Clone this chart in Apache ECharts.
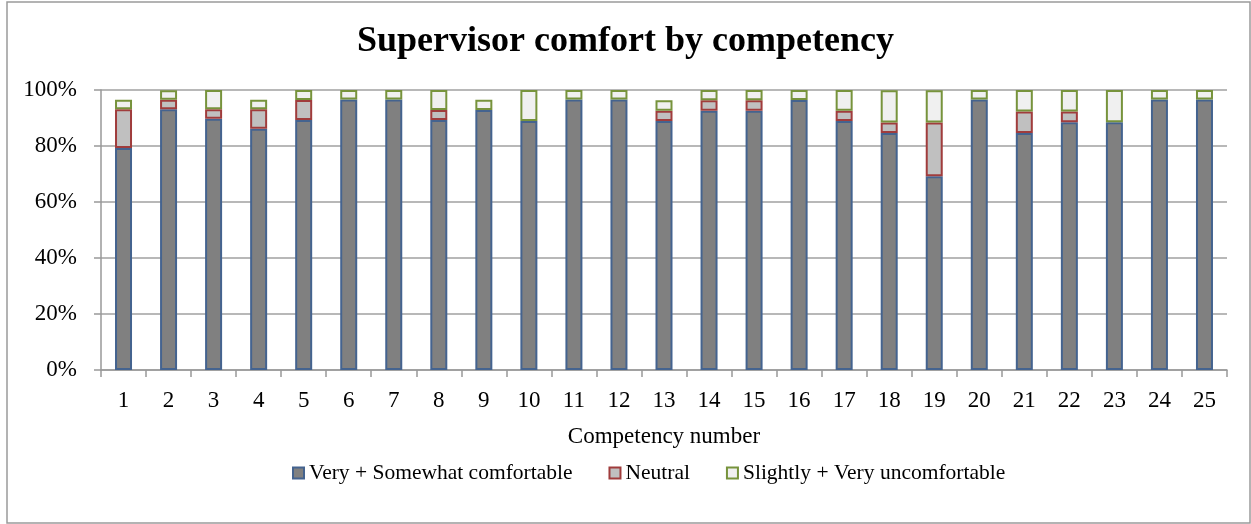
<!DOCTYPE html>
<html style="height: 100%">
<head>
    <meta charset="utf-8">
</head>
<body style="height: 100%; margin: 0; background: #fff">
<div id="container" style="width: 1251px; height: 524px"></div>
<script type="text/javascript" src="https://cdn.jsdelivr.net/npm/echarts@6/dist/echarts.min.js"></script>
<script type="text/javascript">
    // competency numbers 1..25
    var competencies = ['1', '2', '3', '4', '5', '6', '7', '8', '9', '10', '11', '12', '13',
        '14', '15', '16', '17', '18', '19', '20', '21', '22', '23', '24', '25'];

    // share of supervisors (%)
    var comfortable = [79.3, 93.1, 89.7, 86.2, 89.3, 96.6, 96.6, 89.3, 92.9, 88.9, 96.6, 96.6, 88.9,
        92.6, 92.6, 96.4, 88.9, 84.6, 69.2, 96.6, 84.6, 88.5, 88.5, 96.6, 96.6];
    var neutral = [13.8, 3.4, 3.4, 6.9, 7.1, 0, 0, 3.6, 0, 0, 0, 0, 3.7,
        3.7, 3.7, 0, 3.7, 3.8, 19.2, 0, 7.7, 3.8, 0, 0, 0];
    var uncomfortable = [3.4, 3.4, 6.9, 3.4, 3.6, 3.4, 3.4, 7.1, 3.6, 11.1, 3.4, 3.4, 3.7,
        3.7, 3.7, 3.6, 7.4, 11.5, 11.5, 3.4, 7.7, 7.7, 11.5, 3.4, 3.4];
    var yTicks = [0, 20, 40, 60, 80, 100];

    var FONT = '"Liberation Serif", "DejaVu Serif", serif';

    // zero-height pieces would still show their border, so leave them out
    function noZero(arr) {
        return arr.map(function (v) { return v === 0 ? '-' : v; });
    }

    var myChart = echarts.init(document.getElementById('container'));
    var option = {
        animation: false,
        backgroundColor: '#ffffff',
        textStyle: {fontFamily: FONT, color: '#000'},
        graphic: [{
            type: 'rect',
            shape: {x: 7, y: 2, width: 1243, height: 521},
            style: {fill: 'none', stroke: '#9a9a9a', lineWidth: 1.5},
            silent: true
        }],
        title: {
            text: 'Supervisor comfort by competency',
            left: 'center',
            top: 24,
            padding: 0,
            textStyle: {fontFamily: FONT, fontSize: 36, fontWeight: 'bold', color: '#000'}
        },
        legend: {
            left: 292,
            top: 462,
            padding: 0,
            itemWidth: 11,
            itemHeight: 11,
            itemGap: 36,
            icon: 'rect',
            textStyle: {fontFamily: FONT, fontSize: 21.5, color: '#000'},
            data: ['Very + Somewhat comfortable', 'Neutral', 'Slightly + Very uncomfortable']
        },
        grid: {left: 101, right: 24, top: 90, bottom: 154, containLabel: false},
        xAxis: {
            type: 'category',
            data: competencies,
            name: 'Competency number',
            nameLocation: 'middle',
            nameGap: 55,
            nameTextStyle: {fontFamily: FONT, fontSize: 23, color: '#000'},
            axisLine: {lineStyle: {color: '#999', width: 1.5}},
            axisTick: {show: true, length: 7, lineStyle: {color: '#999', width: 1.5}},
            axisLabel: {fontFamily: FONT, fontSize: 23, color: '#000', margin: 19, interval: 0}
        },
        yAxis: {
            type: 'value',
            min: yTicks[0],
            max: yTicks[yTicks.length - 1],
            interval: 20,
            axisLine: {show: true, lineStyle: {color: '#999', width: 1.5}},
            axisTick: {show: true, length: 7, lineStyle: {color: '#999', width: 1.5}},
            axisLabel: {fontFamily: FONT, fontSize: 23, color: '#000', margin: 24, formatter: '{value}%'},
            splitLine: {show: true, lineStyle: {color: '#a0a0a0', width: 1.5}}
        },
        series: [{
            name: 'Very + Somewhat comfortable',
            type: 'bar',
            stack: 'all',
            barWidth: 17,
            data: noZero(comfortable),
            itemStyle: {color: '#808080', borderColor: '#44638f', borderWidth: 2}
        }, {
            name: 'Neutral',
            type: 'bar',
            stack: 'all',
            barWidth: 17,
            data: noZero(neutral),
            itemStyle: {color: '#c0c0c0', borderColor: '#a03c3c', borderWidth: 2}
        }, {
            name: 'Slightly + Very uncomfortable',
            type: 'bar',
            stack: 'all',
            barWidth: 17,
            data: noZero(uncomfortable),
            itemStyle: {color: '#f0f0f0', borderColor: '#77933c', borderWidth: 2}
        }]
    };
    myChart.setOption(option);
</script>
</body>
</html>
